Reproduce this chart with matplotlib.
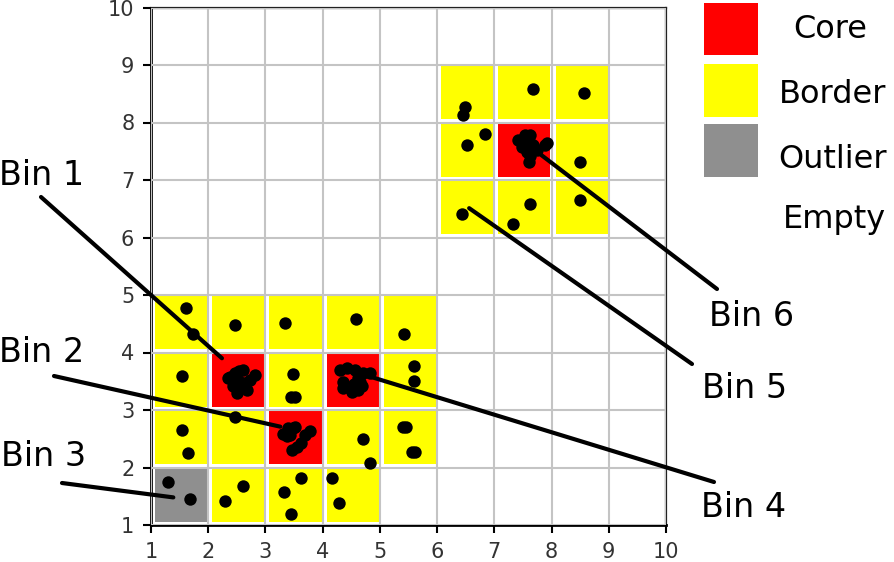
import matplotlib
matplotlib.use("Agg")
import matplotlib.pyplot as plt
from matplotlib.patches import Rectangle

# grid cells (lower-left corner)
core_cells = [(2, 3), (3, 2), (4, 3), (7, 7)]
border_cells = [(1, 4), (2, 4), (3, 4), (4, 4), (5, 4),
                (1, 3), (3, 3), (5, 3),
                (1, 2), (2, 2), (4, 2), (5, 2),
                (2, 1), (3, 1), (4, 1),
                (6, 8), (7, 8), (8, 8),
                (6, 7), (8, 7),
                (6, 6), (7, 6), (8, 6)]
outlier_cells = [(1, 1)]

# points
pts_x = [
    # lower border / outlier cells
    1.62, 1.74, 2.47, 3.34, 4.58, 5.42,
    1.55, 3.49, 3.45, 3.52, 5.59, 5.59,
    1.54, 1.65, 2.47, 4.70, 4.82, 5.41, 5.46, 5.56, 5.62,
    1.30, 1.68, 2.29, 2.60, 3.33, 3.63, 3.44, 4.17, 4.29,
    # bin 1
    2.38, 2.53, 2.61, 2.82, 2.73, 2.44, 2.56, 2.50, 2.67, 2.56, 2.35, 2.47, 2.47, 2.64,
    # bin 2
    3.31, 3.40, 3.52, 3.37, 3.78, 3.69, 3.63, 3.55, 3.46, 3.49, 3.43,
    # bin 4
    4.30, 4.42, 4.57, 4.71, 4.83, 4.62, 4.54, 4.68, 4.36, 4.51, 4.62, 4.36, 4.65,
    # upper border cells
    6.49, 6.46, 7.67, 8.57, 6.53, 6.84, 8.50, 6.43, 7.63, 7.33, 8.50,
    # bin 6
    7.42, 7.54, 7.63, 7.60, 7.48, 7.57, 7.63, 7.60, 7.74, 7.89, 7.92, 7.68,
]
pts_y = [
    4.77, 4.33, 4.47, 4.51, 4.58, 4.33,
    3.60, 3.62, 3.23, 3.23, 3.77, 3.50,
    2.66, 2.25, 2.87, 2.50, 2.07, 2.71, 2.71, 2.27, 2.27,
    1.75, 1.45, 1.42, 1.67, 1.57, 1.81, 1.20, 1.81, 1.39,
    3.58, 3.67, 3.70, 3.61, 3.52, 3.41, 3.43, 3.29, 3.35, 3.49, 3.55, 3.64, 3.52, 3.47,
    2.59, 2.68, 2.71, 2.54, 2.64, 2.57, 2.42, 2.36, 2.30, 2.68, 2.57,
    3.70, 3.73, 3.70, 3.64, 3.64, 3.55, 3.46, 3.41, 3.38, 3.32, 3.35, 3.49, 3.49,
    8.27, 8.13, 8.58, 8.52, 7.61, 7.80, 7.32, 6.41, 6.58, 6.23, 6.65,
    7.70, 7.78, 7.78, 7.67, 7.58, 7.49, 7.41, 7.32, 7.52, 7.61, 7.65, 7.61,
]

bin_labels = ["Bin 1", "Bin 2", "Bin 3", "Bin 4", "Bin 5", "Bin 6"]
bin_targets = [(2.24, 3.90), (3.26, 2.71), (1.39, 1.48), (4.83, 3.58), (6.56, 6.51), (7.80, 7.45)]

legend_names = ["Core", "Border", "Outlier", "Empty"]
legend_colors = ["#ff0000", "#ffff00", "#8f8f8f", None]

W, H = 894, 562
fig = plt.figure(figsize=(W / 100, H / 100), dpi=100)
ax = fig.add_axes([151 / W, 37 / H, 515 / W, 517.5 / H])

def draw_cells(cells, color):
    for cx, cy in cells:
        ax.add_patch(Rectangle((cx + 0.07, cy + 0.06), 0.91, 0.92,
                               facecolor=color, edgecolor="none", zorder=1))

draw_cells(border_cells, "#ffff00")
draw_cells(core_cells, "#ff0000")
draw_cells(outlier_cells, "#8f8f8f")

ax.scatter(pts_x, pts_y, s=80, color="black", zorder=3, linewidths=0)

ax.set_xlim(1, 10)
ax.set_ylim(1, 10)
ax.set_xticks(range(1, 11))
ax.set_yticks(range(1, 11))
ax.grid(True, color="#c4c4c4", linewidth=1.5, zorder=2)
ax.set_axisbelow(False)
ax.tick_params(labelsize=15, labelcolor="#333333", length=6, width=1.5, pad=6)
for side in ["left", "bottom"]:
    ax.spines[side].set_linewidth(2)
    ax.spines[side].set_color("black")
for side in ["top", "right"]:
    ax.spines[side].set_linewidth(1.6)
    ax.spines[side].set_color("#222222")

# overlay in pixel coordinates for legend and bin labels
ov = fig.add_axes([0, 0, 1, 1])
ov.set_xlim(0, W)
ov.set_ylim(H, 0)
ov.axis("off")
ov.patch.set_visible(False)

# legend
legend_rows = [(3, 55), (64, 117), (124, 177), None]
text_base = [38, 103, 168, 228]
text_cx = [830, 833, 833, 835]
for name, col, row, tb, tx in zip(legend_names, legend_colors, legend_rows, text_base, text_cx):
    if col is not None:
        ov.add_patch(Rectangle((704, row[0]), 54, row[1] - row[0],
                               facecolor=col, edgecolor="none"))
    ov.text(tx, tb, name, fontsize=23, ha="center", va="baseline")

# bin annotations
label_pos = [(-1, 185), (-1, 362), (1, 466), (701, 517), (702, 398), (709, 326)]
line_start = [(41, 197), (54, 376), (62, 483), (714, 482), (692, 364), (717, 289)]
for lab, tgt, lp, ls in zip(bin_labels, bin_targets, label_pos, line_start):
    ov.annotate("", xy=tgt, xycoords=ax.transData, xytext=ls, textcoords="data",
                arrowprops=dict(arrowstyle="-", lw=3, color="black",
                                shrinkA=0, shrinkB=0),
                annotation_clip=False)
    ov.text(lp[0], lp[1], lab, fontsize=24, ha="left", va="baseline")

fig.savefig("out.png", dpi=100)
